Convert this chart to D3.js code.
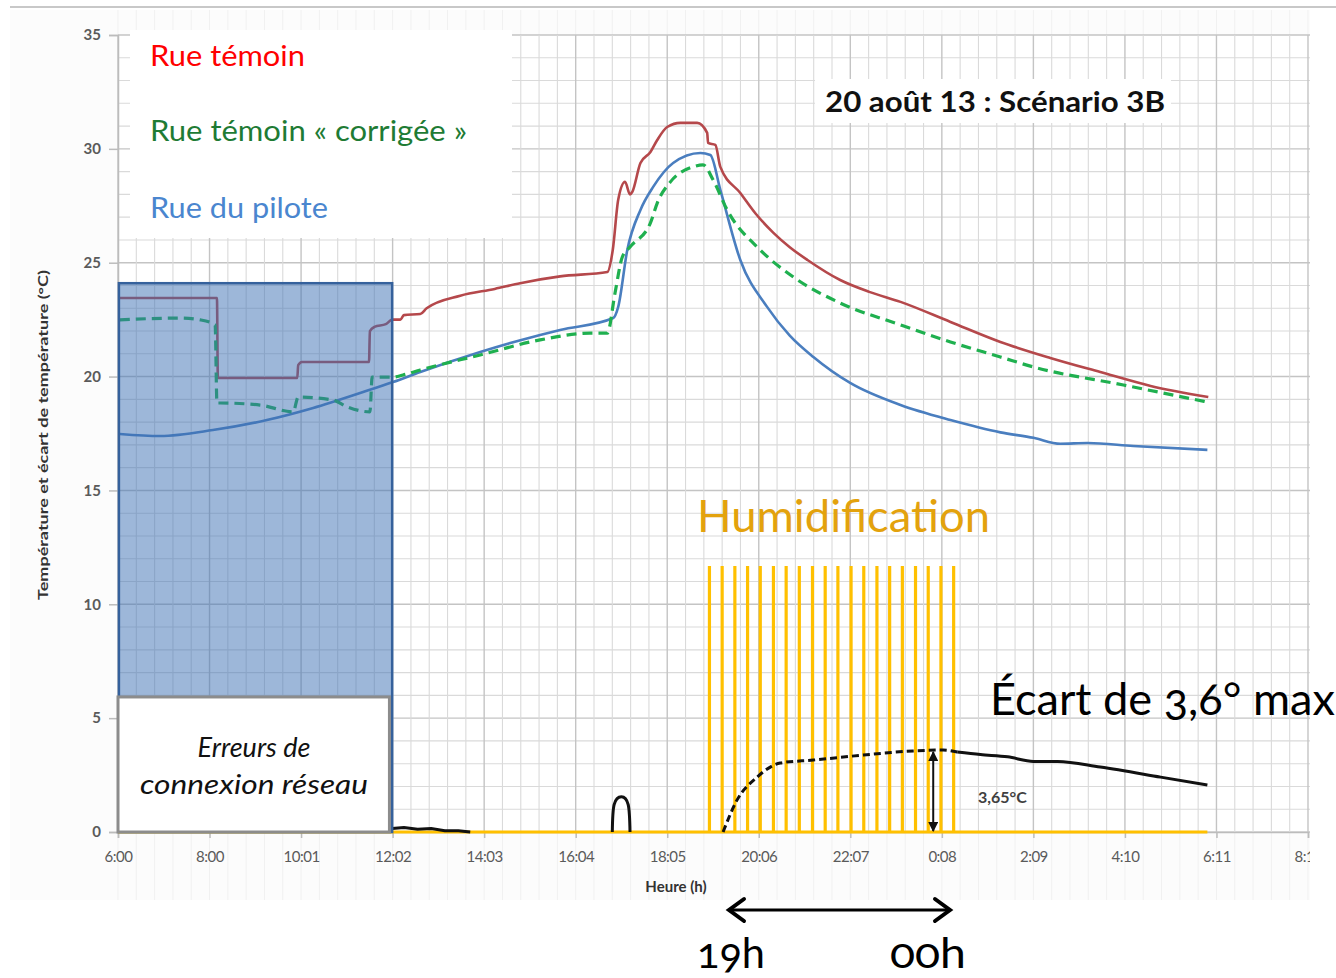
<!DOCTYPE html>
<html><head><meta charset="utf-8">
<script src="https://cdn.jsdelivr.net/npm/d3@7"></script>
<style>
html,body{margin:0;padding:0;background:#fff;}
svg{display:block;}
.onum{font-variant-numeric:oldstyle-nums;font-feature-settings:"onum" 1;}
</style></head>
<body><svg id="c" width="1336" height="978"></svg>
<script>
// ---------- DATA (time in hours since 6:00, values in °C) ----------
const xTickLabels = ["6:00","8:00","10:01","12:02","14:03","16:04","18:05","20:06","22:07","0:08","2:09","4:10","6:11","8:12"];
const tickStepHours = 121/60;
const yTicks = [0,5,10,15,20,25,30,35];

const rueTemoin = [[0,23.45],[2.18,23.45],[2.20,19.94],[3.95,19.94],[3.97,20.5],[4.05,20.64],[5.53,20.64],[5.55,22.0],[5.65,22.18],[5.9,22.3],[6.04,22.5],[6.22,22.5],[6.3,22.7],[6.66,22.75],[6.8,23.0],[7.54,23.55],[8.3,23.85],[8.86,24.1],[9.74,24.4],[10.78,24.59],[10.9,25.56],[11.02,27.76],[11.17,28.55],[11.28,28.0],[11.33,28.11],[11.51,29.38],[11.73,29.86],[11.88,30.39],[12.10,30.96],[12.39,31.14],[12.76,31.14],[12.98,30.70],[13.0,30.26],[13.16,30.17],[13.27,29.21],[13.71,28.06],[14.05,27.15],[14.44,26.31],[14.8,25.68],[15.19,25.12],[15.91,24.24],[16.55,23.72],[17.24,23.28],[18.34,22.40],[19.44,21.52],[20.54,20.82],[21.64,20.20],[22.75,19.59],[24.02,19.10]];

const rueCorrigee = [[0.04,22.49],[1.37,22.57],[1.81,22.49],[2.14,22.27],[2.18,18.84],[2.25,18.84],[3.13,18.75],[3.86,18.45],[3.97,19.10],[4.74,18.97],[5.05,18.67],[5.55,18.45],[5.60,19.98],[6.06,19.98],[6.28,20.07],[6.66,20.29],[7.98,20.95],[9.30,21.61],[10.40,21.91],[10.78,21.91],[10.95,23.67],[11.11,25.25],[11.28,25.69],[11.73,26.75],[11.88,27.62],[12.17,28.55],[12.67,29.21],[12.89,29.30],[13.11,28.64],[13.42,27.32],[14.15,25.56],[14.88,24.37],[15.91,23.23],[17.24,22.27],[18.34,21.52],[19.44,20.86],[20.17,20.42],[22.15,19.63],[24.00,18.88]];

const ruePilote = [[0.04,17.48],[0.93,17.39],[2.09,17.65],[3.28,18.09],[4.30,18.62],[5.40,19.32],[6.06,19.76],[6.66,20.20],[7.98,21.08],[9.30,21.83],[9.74,22.05],[10.91,22.57],[11.02,23.06],[11.22,25.56],[11.51,27.32],[11.79,28.33],[12.23,29.38],[12.83,29.82],[13.05,29.73],[13.27,28.20],[13.71,25.12],[14.30,23.06],[14.8,21.8],[15.32,20.86],[16.13,19.72],[17.24,18.75],[18.34,18.09],[19.44,17.55],[20.17,17.31],[20.76,17.05],[21.36,17.08],[22.37,16.95],[24.00,16.78]];

const ecartNoise = [[6.04,0.15],[6.3,0.2],[6.6,0.12],[6.9,0.15],[7.2,0.06],[7.5,0.05],[7.76,0]];
const ecartSpike = [[10.89,0],[10.93,1.2],[11.09,1.55],[11.24,1.2],[11.28,0]];
const ecartHumid = [[13.33,0],[13.64,1.41],[14.08,2.41],[14.59,3.03],[15.32,3.16],[16.42,3.38],[17.52,3.56],[18.18,3.60],[18.49,3.51]];
const ecartAfter = [[18.49,3.51],[19.0,3.40],[19.6,3.30],[20.17,3.10],[20.70,3.10],[21.64,2.85],[22.97,2.41],[24.0,2.06]];

const humidPulses = [13.03,13.31,13.59,13.87,14.15,14.44,14.72,15.01,15.30,15.58,15.86,16.15,16.43,16.72,17.00,17.28,17.57,17.85,18.13,18.41];
const humidLevel = 11.68;
const humidEnd = 24.0;

const errorWindow = [0.02, 6.04];  // hours
const errorTop = 24.1;
const errorLabelBox = [0, 5.98, 5.93];
const maxGap = {t:17.96, v:3.6};

const legendItems = [
  {label:"Rue témoin", color:"#ff0000", w:155},
  {label:"Rue témoin « corrigée »", color:"#1e7b34", w:317},
  {label:"Rue du pilote", color:"#4a86cf", w:178}
];

// ---------- CHART ----------
const svg = d3.select("#c");
const L=118, R=1310, T=35, B=832;
const x = d3.scaleLinear().domain([0, 13*tickStepHours]).range([L, 1308]);
const y = d3.scaleLinear().domain([0, 35]).range([B, T]);
const font = "Lato, 'Open Sans', sans-serif";

function fit(sel, w){ sel.attr("textLength", w).attr("lengthAdjust","spacingAndGlyphs"); return sel; }

// page background & top line
svg.append("rect").attr("x",10).attr("y",10).attr("width",1300).attr("height",890).attr("fill","#fcfcfc");
svg.append("line").attr("x1",10).attr("x2",1336).attr("y1",7).attr("y2",7).attr("stroke","#c8c8c8").attr("stroke-width",2);
svg.append("rect").attr("x",L).attr("y",T).attr("width",R-L).attr("height",B-T).attr("fill","#fff");

// faint outer grid
const g0 = svg.append("g");
for(let i=0;i<=65;i++){
  const xx = x(i*tickStepHours/5);
  if (xx>R) continue;
  g0.append("line").attr("x1",xx).attr("x2",xx).attr("y1",B).attr("y2",900).attr("stroke","#f1f1f1");
  g0.append("line").attr("x1",xx).attr("x2",xx).attr("y1",10).attr("y2",T).attr("stroke","#f1f1f1");
}

// grid
const grid = svg.append("g");
for(let v=0; v<=35; v++){
  grid.append("line").attr("x1",L).attr("x2",R).attr("y1",y(v)).attr("y2",y(v))
    .attr("stroke", v%5===0 ? "#c4c4c4" : "#dadada").attr("stroke-width", v%5===0?1.4:1.1);
}
for(let i=0;i<=65;i++){
  const xx = x(i*tickStepHours/5);
  if (xx>R) continue;
  grid.append("line").attr("x1",xx).attr("x2",xx).attr("y1",T).attr("y2",B)
    .attr("stroke", i%5===0 ? "#c4c4c4" : "#dadada").attr("stroke-width", i%5===0?1.4:1.1);
}

// axes
const yAxis = svg.append("g").attr("transform",`translate(${L},0)`)
  .call(d3.axisLeft(y).tickValues(yTicks).tickSize(9).tickPadding(8));
yAxis.select(".domain").attr("stroke","#bcbcbc").attr("stroke-width",1.5);
yAxis.selectAll(".tick line").attr("stroke","#bcbcbc").attr("stroke-width",1.5);
yAxis.selectAll("text").attr("font-family",font).attr("font-size",15).attr("font-weight",700).attr("fill","#5a5a5a");

svg.append("clipPath").attr("id","clipx").append("rect").attr("x",0).attr("y",0).attr("width",R).attr("height",978);
const xAxis = svg.append("g").attr("transform",`translate(0,${B})`).attr("clip-path","url(#clipx)")
  .call(d3.axisBottom(x).tickValues(xTickLabels.map((d,i)=>i*tickStepHours)).tickFormat((d,i)=>xTickLabels[i]).tickSize(6).tickPadding(13));
xAxis.select(".domain").attr("stroke","#bcbcbc").attr("stroke-width",1.5);
xAxis.selectAll(".tick line").attr("stroke","#bcbcbc").attr("stroke-width",1.5);
xAxis.selectAll("text").attr("font-family",font).attr("font-size",15).attr("fill","#5a5a5a").attr("letter-spacing","-0.5px");

svg.append("text").attr("x",676).attr("y",892).attr("text-anchor","middle")
  .attr("font-family",font).attr("font-size",15).attr("font-weight",700).attr("fill","#333").text("Heure (h)");
svg.append("text").attr("transform","translate(48,435) rotate(-90)").attr("text-anchor","middle")
  .attr("font-family",font).attr("font-size",14).attr("font-weight",700).attr("fill","#333")
  .text("Température et écart de température (°C)").call(s=>fit(s,330));

// lines
const line = d3.line().x(d=>x(d[0])).y(d=>y(d[1]));
const smooth = d3.line().curve(d3.curveMonotoneX).x(d=>x(d[0])).y(d=>y(d[1]));

// humidification baseline + pulses
svg.append("path").attr("d", line([[0,0],[humidEnd,0]])).attr("stroke","#ffc000").attr("stroke-width",3).attr("fill","none");
svg.append("g").selectAll("line").data(humidPulses).join("line")
  .attr("x1",d=>x(d)).attr("x2",d=>x(d)).attr("y1",y(0)).attr("y2",y(humidLevel))
  .attr("stroke","#ffc000").attr("stroke-width",3.2);

svg.append("path").attr("d",smooth(rueTemoin)).attr("fill","none").attr("stroke","#b5484b").attr("stroke-width",2.6).attr("stroke-linejoin","round");
svg.append("path").attr("d",smooth(ruePilote)).attr("fill","none").attr("stroke","#4a7ebf").attr("stroke-width",2.6).attr("stroke-linejoin","round");
svg.append("path").attr("d",smooth(rueCorrigee)).attr("fill","none").attr("stroke","#1fb04f").attr("stroke-width",3.2).attr("stroke-dasharray","10,6");

// ecart
svg.append("path").attr("d",line(ecartNoise)).attr("fill","none").attr("stroke","#111").attr("stroke-width",3);
svg.append("path").attr("d",d3.line().curve(d3.curveCardinal).x(d=>x(d[0])).y(d=>y(d[1]))(ecartSpike)).attr("fill","none").attr("stroke","#111").attr("stroke-width",3);
svg.append("path").attr("d",smooth(ecartHumid)).attr("fill","none").attr("stroke","#111").attr("stroke-width",3).attr("stroke-dasharray","7,4");
svg.append("path").attr("d",smooth(ecartAfter)).attr("fill","none").attr("stroke","#111").attr("stroke-width",3);

// error window (semi-transparent overlay)
svg.append("rect").attr("x",x(errorWindow[0])).attr("y",y(errorTop))
  .attr("width",x(errorWindow[1])-x(errorWindow[0])).attr("height",y(0)-y(errorTop))
  .attr("fill","#3b6fb3").attr("fill-opacity",0.5).attr("stroke","#35619c").attr("stroke-width",2.5);
svg.append("rect").attr("x",x(errorLabelBox[0])).attr("y",y(errorLabelBox[2]))
  .attr("width",x(errorLabelBox[1])-x(errorLabelBox[0])).attr("height",y(0)-y(errorLabelBox[2]))
  .attr("fill","#fff").attr("stroke","#8c8c8c").attr("stroke-width",3);
svg.append("text").attr("x",254).attr("y",757).attr("text-anchor","middle").attr("font-family",font).attr("font-style","italic").attr("font-size",27).attr("fill","#111").text("Erreurs de");
svg.append("text").attr("x",254).attr("y",794).attr("text-anchor","middle").attr("font-family",font).attr("font-style","italic").attr("font-size",27).attr("fill","#111").text("connexion réseau").call(s=>fit(s,228));

// legend
svg.append("rect").attr("x",130).attr("y",30).attr("width",382).attr("height",208).attr("fill","#fff");
const legY=[66,141,218];
legendItems.forEach((d,i)=>{
  svg.append("text").attr("x",150).attr("y",legY[i]).attr("font-family",font).attr("font-size",29).attr("fill",d.color).text(d.label).call(s=>fit(s,d.w));
});

// title
svg.append("rect").attr("x",815).attr("y",79).attr("width",356).attr("height",44).attr("fill","#fff");
svg.append("text").attr("x",825).attr("y",112).attr("font-family",font).attr("font-size",28).attr("font-weight",700).attr("fill","#111").text("20 août 13 : Scénario 3B").call(s=>fit(s,340));

// annotations
svg.append("text").attr("x",697).attr("y",532).attr("font-family",font).attr("font-size",44).attr("fill","#e3a20d").text("Humidification").call(s=>fit(s,293));
svg.append("text").attr("class","onum").attr("x",990).attr("y",715).attr("font-family",font).attr("font-size",44).attr("fill","#000").text("Écart de 3,6° max").call(s=>fit(s,345));
svg.append("text").attr("x",978).attr("y",803).attr("font-family",font).attr("font-size",16).attr("font-weight",700).attr("fill","#404040").text("3,65°C");

const defs = svg.append("defs");
defs.append("marker").attr("id","ah").attr("viewBox","0 0 10 10").attr("refX",9).attr("refY",5)
  .attr("markerWidth",5).attr("markerHeight",5).attr("orient","auto-start-reverse")
  .append("path").attr("d","M0,0 L10,5 L0,10 z").attr("fill","#111");
svg.append("line").attr("x1",x(maxGap.t)).attr("x2",x(maxGap.t)).attr("y1",y(maxGap.v)+2).attr("y2",y(0)-1)
  .attr("stroke","#111").attr("stroke-width",2).attr("marker-start","url(#ah)").attr("marker-end","url(#ah)");

// horizontal arrow 19h -> 00h
svg.append("line").attr("x1",730).attr("x2",949).attr("y1",910).attr("y2",910).attr("stroke","#000").attr("stroke-width",3);
svg.append("path").attr("d","M744,899 L729,910 L744,921").attr("fill","none").attr("stroke","#000").attr("stroke-width",4).attr("stroke-linecap","round");
svg.append("path").attr("d","M935,899 L950,910 L935,921").attr("fill","none").attr("stroke","#000").attr("stroke-width",4).attr("stroke-linecap","round");
svg.append("text").attr("class","onum").attr("x",697).attr("y",968).attr("font-family",font).attr("font-size",42).attr("fill","#000").text("19h").call(s=>fit(s,68));
svg.append("text").attr("class","onum").attr("x",890).attr("y",968).attr("font-family",font).attr("font-size",42).attr("fill","#000").text("00h").call(s=>fit(s,76));
</script></body></html>
